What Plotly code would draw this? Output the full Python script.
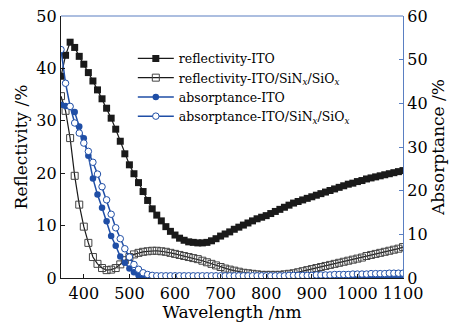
import plotly.graph_objects as go

# Wavelength grid (nm), sampled every 10 nm
wavelength = list(range(350, 1101, 10))

# Reflectivity of bare ITO (%)
refl_ito = [
    38.5, 42.5, 45.0, 44.0, 42.3, 40.8, 39.2, 37.6, 35.9, 34.2,
    32.4, 30.5, 28.4, 26.1, 23.7, 21.6, 19.9, 18.2, 16.5, 14.8,
    13.2, 12.0, 10.9, 9.8, 8.9, 8.2, 7.6, 7.2, 6.9, 6.8,
    6.7, 6.7, 6.8, 7.1, 7.5, 8.0, 8.4, 8.8, 9.3, 9.7,
    10.1, 10.5, 10.9, 11.3, 11.6, 11.9, 12.3, 12.7, 13.1, 13.5,
    13.9, 14.3, 14.6, 14.9, 15.2, 15.5, 15.8, 16.1, 16.4, 16.7,
    17.0, 17.3, 17.6, 17.9, 18.1, 18.4, 18.6, 18.9, 19.1, 19.3,
    19.5, 19.7, 19.9, 20.1, 20.3, 20.5,
]

# Reflectivity of ITO/SiNx/SiOx stack (%)
refl_stack = [
    34.7, 31.9, 26.7, 19.5, 14.0, 9.8, 6.7, 4.0, 2.7, 1.9,
    1.5, 1.6, 1.9, 2.6, 3.4, 4.0, 4.5, 4.8, 5.0, 5.1,
    5.2, 5.2, 5.1, 5.0, 4.8, 4.6, 4.4, 4.2, 4.0, 3.8,
    3.6, 3.3, 3.0, 2.7, 2.4, 2.1, 1.8, 1.6, 1.4, 1.2,
    1.0, 0.9, 0.8, 0.7, 0.6, 0.6, 0.6, 0.6, 0.6, 0.7,
    0.8, 0.9, 1.1, 1.3, 1.5, 1.7, 1.9, 2.1, 2.3, 2.5,
    2.7, 2.9, 3.1, 3.3, 3.5, 3.7, 3.9, 4.2, 4.4, 4.6,
    4.8, 5.0, 5.2, 5.4, 5.6, 5.9,
]

# Absorptance of bare ITO (%)
abs_ito = [
    39.7, 39.4, 39.2, 38.0, 34.7, 32.0, 28.0, 22.8, 19.1, 16.1,
    13.0, 9.6, 7.4, 4.9, 3.5, 2.2, 1.3, 0.6, 0.3, 0.2,
    0.2, 0.2, 0.2, 0.2, 0.2, 0.2, 0.2, 0.2, 0.2, 0.2,
    0.2, 0.2, 0.2, 0.2, 0.2, 0.2, 0.2, 0.2, 0.2, 0.2,
    0.2, 0.2, 0.2, 0.2, 0.2, 0.2, 0.2, 0.2, 0.2, 0.2,
    0.2, 0.2, 0.2, 0.2, 0.2, 0.2, 0.2, 0.2, 0.2, 0.2,
    0.2, 0.2, 0.2, 0.2, 0.2, 0.2, 0.2, 0.3, 0.3, 0.3,
    0.3, 0.3, 0.3, 0.3, 0.3, 0.3,
]

# Absorptance of ITO/SiNx/SiOx stack (%)
abs_stack = [
    52.3, 44.6, 39.3, 35.5, 33.2, 30.9, 29.0, 26.5, 23.8, 20.9,
    17.9, 14.6, 11.5, 9.0, 6.7, 4.8, 3.1, 2.0, 1.2, 0.8,
    0.6, 0.5, 0.5, 0.5, 0.5, 0.5, 0.5, 0.5, 0.5, 0.5,
    0.5, 0.5, 0.5, 0.5, 0.5, 0.5, 0.5, 0.5, 0.5, 0.5,
    0.5, 0.5, 0.5, 0.5, 0.5, 0.5, 0.5, 0.5, 0.5, 0.5,
    0.6, 0.6, 0.6, 0.6, 0.6, 0.6, 0.7, 0.7, 0.7, 0.7,
    0.8, 0.8, 0.8, 0.8, 0.9, 0.9, 0.9, 0.9, 1.0, 1.0,
    1.0, 1.0, 1.1, 1.1, 1.1, 1.1,
]

x_ticks = [400, 500, 600, 700, 800, 900, 1000, 1100]

BLACK = "#1a1a1a"
BLUE = "#1f4ea6"
AXIS_BLUE = "#5a7fc2"
FONT = "DejaVu Serif"

fig = go.Figure()

fig.add_trace(go.Scatter(
    x=wavelength, y=refl_ito, name="reflectivity-ITO", mode="lines+markers",
    line=dict(color=BLACK, width=1.2),
    marker=dict(symbol="square", size=7, color=BLACK),
))
fig.add_trace(go.Scatter(
    x=wavelength, y=refl_stack,
    name="reflectivity-ITO/SiN<sub><i>x</i></sub>/SiO<sub><i>x</i></sub>",
    mode="lines+markers",
    line=dict(color=BLACK, width=1.2),
    marker=dict(symbol="square-open", size=7, color="#444444", line=dict(width=1)),
))
fig.add_trace(go.Scatter(
    x=wavelength, y=abs_ito, name="absorptance-ITO", mode="lines+markers",
    yaxis="y2",
    line=dict(color=BLUE, width=1.5),
    marker=dict(symbol="circle", size=6.5, color=BLUE),
))
fig.add_trace(go.Scatter(
    x=wavelength, y=abs_stack,
    name="absorptance-ITO/SiN<sub><i>x</i></sub>/SiO<sub><i>x</i></sub>",
    mode="lines+markers", yaxis="y2",
    line=dict(color=BLUE, width=1.5),
    marker=dict(symbol="circle", size=6.5, color="white", line=dict(color=BLUE, width=1)),
))

fig.update_layout(
    width=454, height=322,
    margin=dict(l=61, r=51, t=16, b=44),
    paper_bgcolor="white", plot_bgcolor="white",
    font=dict(family=FONT, size=16, color="black"),
    showlegend=True,
    legend=dict(
        x=0.21, y=0.894, xanchor="left", yanchor="top",
        bgcolor="rgba(0,0,0,0)", font=dict(family=FONT, size=12.5, color="black"),
        itemwidth=36, tracegroupgap=0,
    ),
    xaxis=dict(
        range=[350, 1100], tickvals=x_ticks, ticks="inside", ticklen=4,
        tickcolor=BLACK, showline=True, linecolor=BLACK, linewidth=1.2,
        showgrid=False, zeroline=False, automargin=False, ticklabelstandoff=1,
        title=dict(text="Wavelength /nm", standoff=0, font=dict(size=17)),
        tickfont=dict(size=16),
    ),
    yaxis=dict(
        range=[0, 50], dtick=10, ticks="inside", ticklen=4,
        tickcolor=BLACK, showline=True, linecolor=BLACK, linewidth=1.2,
        showgrid=False, zeroline=False, automargin=False,
        title=dict(text="Reflectivity /%", standoff=4, font=dict(size=17)),
        tickfont=dict(size=16),
    ),
    yaxis2=dict(
        range=[0, 60], dtick=10, overlaying="y", side="right",
        ticks="inside", ticklen=4, tickcolor=AXIS_BLUE,
        showline=True, linecolor=AXIS_BLUE, linewidth=1.2,
        showgrid=False, zeroline=False, automargin=False,
        title=dict(text="Absorptance /%", standoff=4, font=dict(size=17)),
        tickfont=dict(size=16, color="black"),
    ),
    shapes=[dict(
        type="line", xref="paper", yref="paper", x0=0, x1=1, y0=1, y1=1,
        line=dict(color=AXIS_BLUE, width=1.2),
    )],
)

fig.write_html("out.html")
